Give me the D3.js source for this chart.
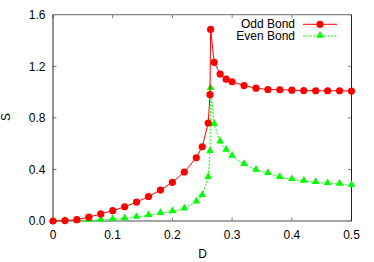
<!DOCTYPE html>
<html>
<head>
<meta charset="utf-8">
<script src="https://cdn.jsdelivr.net/npm/d3@7"></script>
<style>
  body { margin: 0; background: #fff; }
  text { font-family: "Liberation Sans", Arial, sans-serif; font-size: 12px; fill: #000; }
</style>
</head>
<body>
<div id="chart"></div>
<script>
// Data
var dOdd = [0, 0.02, 0.04, 0.06, 0.08, 0.10, 0.12, 0.14, 0.16, 0.18, 0.20, 0.22, 0.24, 0.25, 0.26, 0.263, 0.264,
  0.27, 0.28, 0.29, 0.30, 0.32, 0.34, 0.36, 0.38, 0.40, 0.42, 0.44, 0.46, 0.48, 0.50];
var sOdd = [0, 0.003, 0.01, 0.03, 0.055, 0.08, 0.11, 0.147, 0.19, 0.24, 0.30, 0.38, 0.49, 0.576, 0.76, 0.98, 1.486,
  1.23, 1.14, 1.10, 1.08, 1.05, 1.03, 1.02, 1.018, 1.015, 1.012, 1.01, 1.01, 1.01, 1.008];
var dEven = dOdd;
var sEven = [0, 0.001, 0.003, 0.005, 0.008, 0.013, 0.02, 0.03, 0.044, 0.06, 0.074, 0.095, 0.15, 0.2, 0.34, 0.54, 1.03,
  0.75, 0.615, 0.55, 0.504, 0.44, 0.395, 0.37, 0.34, 0.323, 0.31, 0.30, 0.292, 0.287, 0.277];
var xTicks = [0, 0.1, 0.2, 0.3, 0.4, 0.5];
var yTicks = [0, 0.4, 0.8, 1.2, 1.6];
var seriesNames = ["Odd Bond", "Even Bond"];

var W = 374, H = 262;
var pLeft = 53, pRight = 351.5, pTop = 14.7, pBottom = 221;

var svg = d3.select("#chart").append("svg")
  .attr("width", W)
  .attr("height", H);

var x = d3.scaleLinear().domain([0, 0.5]).range([pLeft, pRight]);
var y = d3.scaleLinear().domain([0, 1.6]).range([pBottom, pTop]);

// ticks (inward, mirrored)
var tk = 3.5;
var g = svg.append("g");
xTicks.forEach(function(t) {
  g.append("line").attr("x1", x(t)).attr("x2", x(t)).attr("y1", pBottom).attr("y2", pBottom - tk)
    .attr("stroke", "#555").attr("stroke-width", 0.8);
  g.append("line").attr("x1", x(t)).attr("x2", x(t)).attr("y1", pTop).attr("y2", pTop + tk)
    .attr("stroke", "#555").attr("stroke-width", 0.8);
  g.append("text").attr("x", x(t)).attr("y", 238.5).attr("text-anchor", "middle")
    .text(t === 0 ? "0" : d3.format(".1f")(t));
});
yTicks.forEach(function(t) {
  g.append("line").attr("x1", pLeft).attr("x2", pLeft + tk).attr("y1", y(t)).attr("y2", y(t))
    .attr("stroke", "#555").attr("stroke-width", 0.8);
  g.append("line").attr("x1", pRight).attr("x2", pRight - tk).attr("y1", y(t)).attr("y2", y(t))
    .attr("stroke", "#555").attr("stroke-width", 0.8);
  g.append("text").attr("x", 45.5).attr("y", y(t) + 4.3).attr("text-anchor", "end")
    .text(d3.format(".1f")(t));
});

// border
svg.append("line").attr("x1", pLeft).attr("x2", pRight).attr("y1", pTop).attr("y2", pTop)
  .attr("stroke", "#888").attr("stroke-width", 1.3);
svg.append("line").attr("x1", pLeft).attr("x2", pRight).attr("y1", pBottom).attr("y2", pBottom)
  .attr("stroke", "#888").attr("stroke-width", 1.5);
svg.append("line").attr("x1", pLeft).attr("x2", pLeft).attr("y1", pTop).attr("y2", pBottom)
  .attr("stroke", "#222").attr("stroke-width", 1);
svg.append("line").attr("x1", pRight).attr("x2", pRight).attr("y1", pTop).attr("y2", pBottom)
  .attr("stroke", "#222").attr("stroke-width", 1);

// axis labels
svg.append("text").attr("x", 202.5).attr("y", 257.5).attr("text-anchor", "middle").text("D");
svg.append("text").attr("transform", "translate(10,117) rotate(-90)").attr("text-anchor", "middle").text("S");

var line = d3.line()
  .x(function(d) { return x(d[0]); })
  .y(function(d) { return y(d[1]); });

var odd = dOdd.map(function(d, i) { return [d, sOdd[i]]; });
var even = dEven.map(function(d, i) { return [d, sEven[i]]; });

var tri = d3.symbol().type(d3.symbolTriangle).size(26);

// even series (drawn first, red on top)
svg.append("path").datum(even).attr("d", line)
  .attr("fill", "none").attr("stroke", "#00ff00").attr("stroke-width", 1)
  .attr("stroke-dasharray", "2,1.5");
svg.append("g").selectAll("path").data(even).enter().append("path")
  .attr("d", tri)
  .attr("transform", function(d) { return "translate(" + x(d[0]) + "," + (y(d[1]) - 0.5) + ")"; })
  .attr("fill", "#00ff00");

svg.append("path").datum(odd).attr("d", line)
  .attr("fill", "none").attr("stroke", "#ff0000").attr("stroke-width", 1);
svg.append("g").selectAll("circle").data(odd).enter().append("circle")
  .attr("cx", function(d) { return x(d[0]); })
  .attr("cy", function(d) { return y(d[1]); })
  .attr("r", 3.6)
  .attr("fill", "#ff0000");

// legend
var lg = svg.append("g");
lg.append("text").attr("x", 295).attr("y", 28.3).attr("text-anchor", "end").text(seriesNames[0]);
lg.append("text").attr("x", 295).attr("y", 40.3).attr("text-anchor", "end").text(seriesNames[1]);
lg.append("line").attr("x1", 303).attr("x2", 337).attr("y1", 24.3).attr("y2", 24.3)
  .attr("stroke", "#ff0000").attr("stroke-width", 1);
lg.append("circle").attr("cx", 320).attr("cy", 24.3).attr("r", 3.6).attr("fill", "#ff0000");
lg.append("line").attr("x1", 303).attr("x2", 337).attr("y1", 36).attr("y2", 36)
  .attr("stroke", "#00ff00").attr("stroke-width", 1).attr("stroke-dasharray", "2,1.5");
lg.append("path").attr("d", tri).attr("transform", "translate(320,35.5)").attr("fill", "#00ff00");
</script>
</body>
</html>
